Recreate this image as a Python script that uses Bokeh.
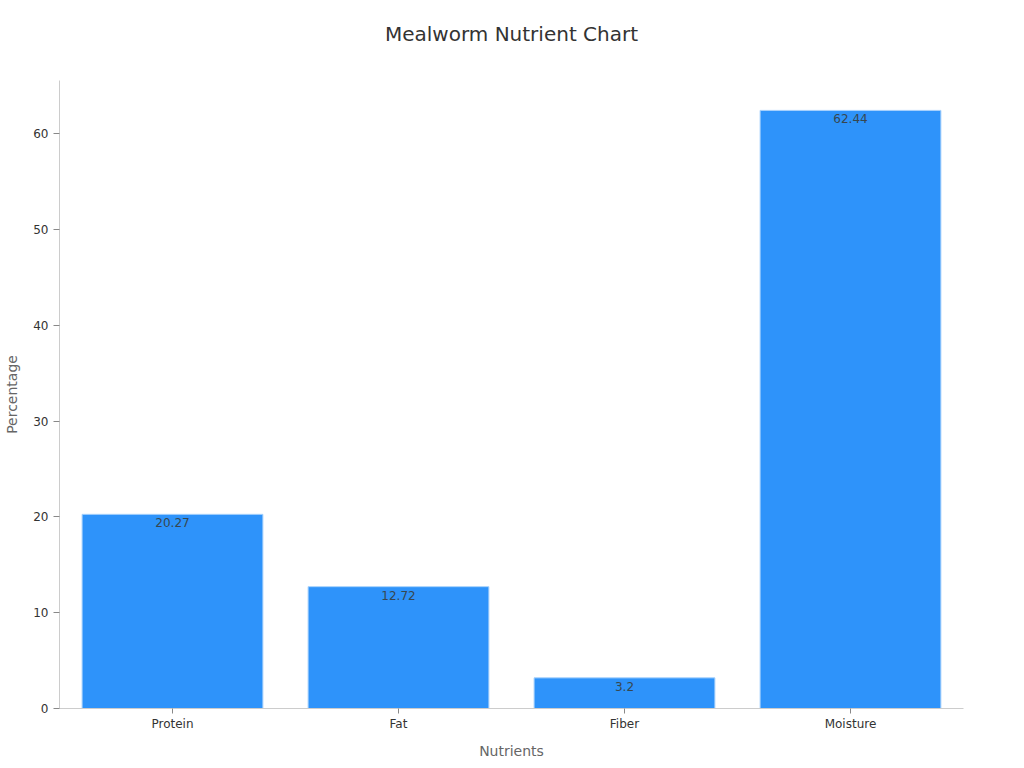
from bokeh.plotting import figure
from bokeh.models import ColumnDataSource, Range1d, Title
from bokeh.core.properties import value
from bokeh.embed import file_html
from bokeh.resources import INLINE

categories = ["Protein", "Fat", "Fiber", "Moisture"]
values = [20.27, 12.72, 3.2, 62.44]
labels = ["20.27", "12.72", "3.2", "62.44"]

FONT = "DejaVu Sans"

src = ColumnDataSource(dict(cat=categories, val=values, lab=labels))

p = figure(x_range=categories, width=1024, height=768, output_backend="svg",
           toolbar_location=None, min_border_left=59, min_border_right=61,
           min_border_top=80, min_border_bottom=60)
p.y_range = Range1d(0, max(values) * 1.05)

p.vbar(x="cat", top="val", width=0.8, source=src, fill_color="#2E93FA",
       line_color="#A8D2FC", line_width=1)
p.text(x="cat", y="val", text="lab", source=src, text_align="center",
       text_baseline="top", y_offset=4, text_font_size="12px",
       text_color="#37474F", text_font=value(FONT))

p.title.text = "Mealworm Nutrient Chart"
p.title.align = "center"
p.title.text_font = FONT
p.title.text_font_size = "20px"
p.title.text_font_style = "normal"
p.title.text_color = "#333333"
p.title.standoff = 10

# blank spacer between title and plot frame
p.add_layout(Title(text=" ", text_font_size="1px", standoff=27), "above")

p.xgrid.visible = False
p.ygrid.visible = False
p.outline_line_color = None

for ax in (p.xaxis[0], p.yaxis[0]):
    ax.axis_line_color = "#CCCCCC"
    ax.major_tick_line_color = "#888888"
    ax.minor_tick_line_color = None
    ax.major_label_text_font = FONT
    ax.major_label_text_font_size = "12px"
    ax.major_label_text_color = "#333333"
    ax.axis_label_text_font = FONT
    ax.axis_label_text_font_size = "14px"
    ax.axis_label_text_font_style = "normal"
    ax.axis_label_text_color = "#666666"

p.xaxis.axis_label = "Nutrients"
p.yaxis.axis_label = "Percentage"
p.xaxis.major_tick_in = 0
p.xaxis.major_tick_out = 5
p.xaxis.major_label_standoff = 3
p.xaxis.axis_label_standoff = 9
p.yaxis.major_tick_in = 0
p.yaxis.major_tick_out = 6
p.yaxis.axis_label_standoff = 10
p.yaxis.ticker = [0, 10, 20, 30, 40, 50, 60]

open("out.html", "w").write(file_html(p, INLINE))
